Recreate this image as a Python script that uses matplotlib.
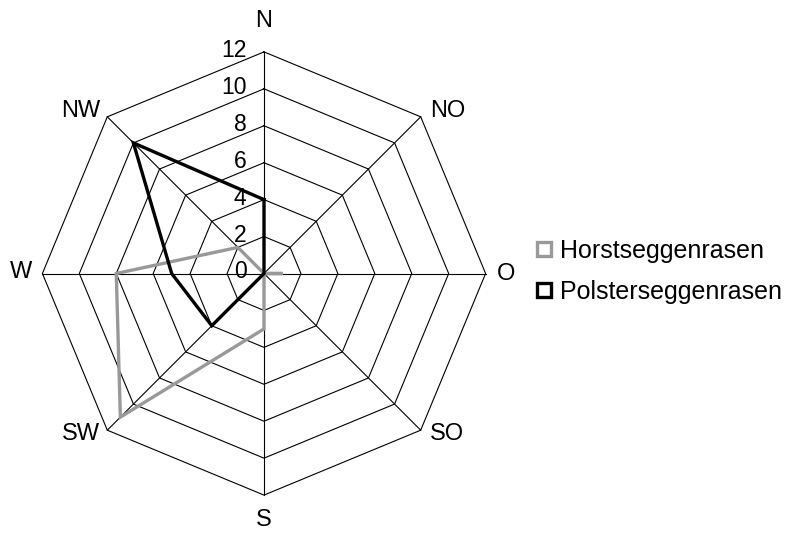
import numpy as np
import matplotlib
matplotlib.use("Agg")
import matplotlib.pyplot as plt
from matplotlib.lines import Line2D

plt.rcParams['font.family'] = ['Liberation Sans', 'DejaVu Sans']

directions = ["N", "NO", "O", "SO", "S", "SW", "W", "NW"]
horstseggenrasen = [0, 0, 1, 0, 3, 11, 8, 2]
polsterseggenrasen = [4, 0, 0, 0, 0, 4, 5, 10]
ring_levels = [0, 2, 4, 6, 8, 10, 12]
series_names = ["Horstseggenrasen", "Polsterseggenrasen"]
series_colors = ["#999999", "#000000"]

# label offsets in pixels (dx, dy) relative to the outer vertex, plus alignment
label_style = {
    "N": (0, 25, "center"),
    "NO": (9, 0, "left"),
    "O": (11, -7, "left"),
    "SO": (9, -10, "left"),
    "S": (0, -31, "center"),
    "SW": (-7, -10, "right"),
    "W": (-10, -5, "right"),
    "NW": (-7, 0, "right"),
}

fig = plt.figure(figsize=(7.95, 5.34), dpi=100)
ax = fig.add_axes([42.4 / 795, 38.9 / 534, 443.2 / 795, 443.2 / 534], projection="polar")
ax.set_theta_zero_location("N")
ax.set_theta_direction(-1)
ax.set_ylim(0, ring_levels[-1])
ax.grid(False)
ax.spines["polar"].set_visible(False)
ax.set_xticks([])
ax.set_yticks([])
ax.patch.set_visible(False)

n = len(directions)
theta = np.arange(n) * 2 * np.pi / n
closed = np.append(theta, theta[0])

# grid: octagon rings and spokes
for lv in ring_levels[1:]:
    ax.plot(closed, [lv] * (n + 1), color="black", lw=0.8, clip_on=False, zorder=1)
for t in theta:
    ax.plot([t, t], [0, ring_levels[-1]], color="black", lw=0.8, clip_on=False, zorder=1)

# data series
for vals, col in zip([horstseggenrasen, polsterseggenrasen], series_colors):
    ax.plot(closed, vals + vals[:1], color=col, lw=2.4, solid_joinstyle="miter",
            clip_on=False, zorder=3)

# radial value labels
for lv in ring_levels:
    ax.annotate(str(lv), xy=(0, lv), xytext=(-17.6 * 0.72, -5 * 0.72),
                textcoords="offset points", ha="right", va="baseline", fontsize=16.5,
                zorder=4)

# direction labels
for t, d in zip(theta, directions):
    dx, dy, ha = label_style[d]
    ax.annotate(d, xy=(t, ring_levels[-1]), xytext=(dx * 0.72, dy * 0.72),
                textcoords="offset points", ha=ha, va="baseline", fontsize=17,
                annotation_clip=False)

handles = [Line2D([], [], ls="none", marker="s", markersize=10, markerfacecolor="white",
                  markeredgecolor=c, markeredgewidth=2.4) for c in series_colors]
fig.legend(handles, series_names, loc="center left", bbox_to_anchor=(535 / 795, 1 - 271.5 / 534),
           frameon=False, fontsize=18, borderpad=0, borderaxespad=0, handlelength=0.7,
           handletextpad=0.3, labelspacing=0.68)

fig.savefig("out.png", dpi=100)
